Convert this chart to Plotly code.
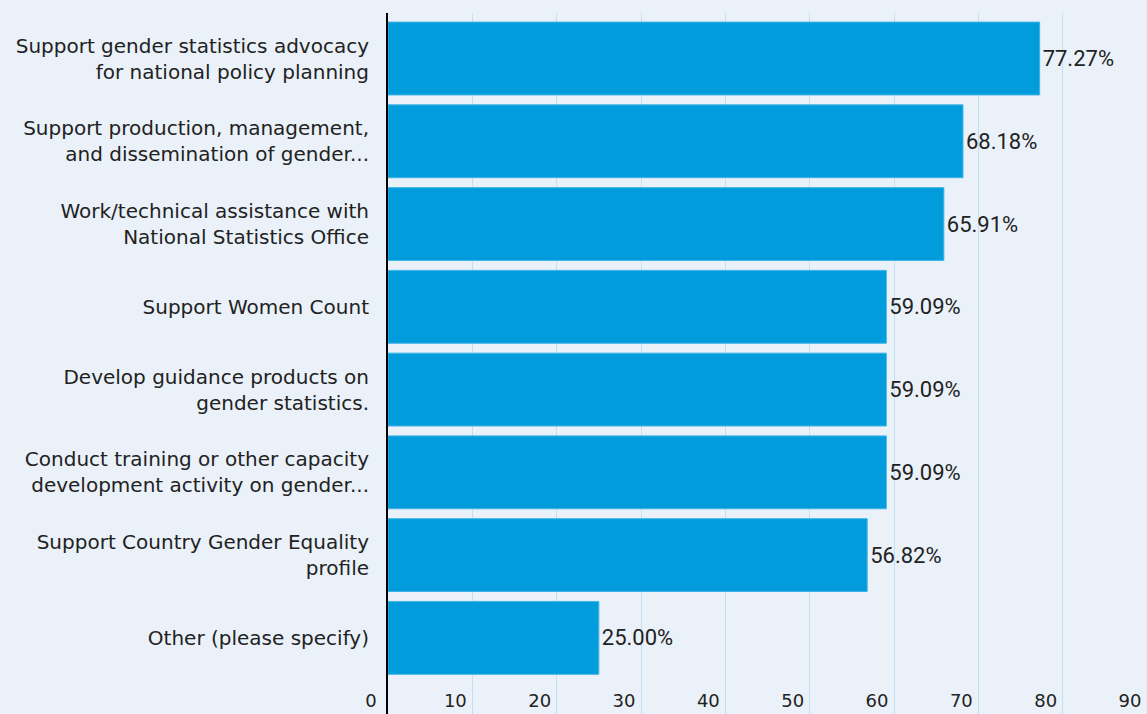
import plotly.graph_objects as go

categories = [
    "Support gender statistics advocacy<br>for national policy planning",
    "Support production, management,<br>and dissemination of gender...",
    "Work/technical assistance with<br>National Statistics Office",
    "Support Women Count",
    "Develop guidance products on<br>gender statistics.",
    "Conduct training or other capacity<br>development activity on gender...",
    "Support Country Gender Equality<br>profile",
    "Other (please specify)",
]
values = [77.27, 68.18, 65.91, 59.09, 59.09, 59.09, 56.82, 25.00]
x_ticks = [0, 10, 20, 30, 40, 50, 60, 70, 80, 90]

BG = "#EAF1F9"
BAR = "#009CDC"
TXT = "#222222"

fig = go.Figure(
    go.Bar(
        x=values,
        y=categories,
        orientation="h",
        marker=dict(color=BAR, line=dict(color="#3FB3E6", width=1)),
        text=[f"{v:.2f}%" for v in values],
        textposition="outside",
        textfont=dict(family="Roboto", size=22, color=TXT),
        cliponaxis=False,
        width=0.88,
    )
)

fig.update_layout(
    width=1147,
    height=714,
    margin=dict(l=388, r=0, t=13, b=0),
    paper_bgcolor=BG,
    plot_bgcolor=BG,
    showlegend=False,
    font=dict(family="DejaVu Sans", color=TXT),
)

fig.update_xaxes(
    range=[0, 90],
    tickvals=x_ticks,
    ticktext=[str(t) for t in x_ticks],
    showgrid=True,
    gridcolor="#C2E0F3",
    gridwidth=1,
    zeroline=False,
    showline=False,
    ticks="",
    ticklabelposition="inside",
    ticklabelshift=-17,
    ticklabeloverflow="allow",
    tickfont=dict(family="DejaVu Sans", size=18, color=TXT),
)

fig.update_yaxes(
    categoryorder="array",
    categoryarray=categories,
    range=[7.92, -0.55],
    showline=True,
    linecolor="#000000",
    linewidth=2,
    showgrid=False,
    ticks="",
    ticklabelstandoff=13,
    tickfont=dict(family="DejaVu Sans", size=20, color=TXT),
)

fig.write_html(
    "out.html",
    config={"displayModeBar": False},
    post_script="document.body.style.margin='0px';",
)
